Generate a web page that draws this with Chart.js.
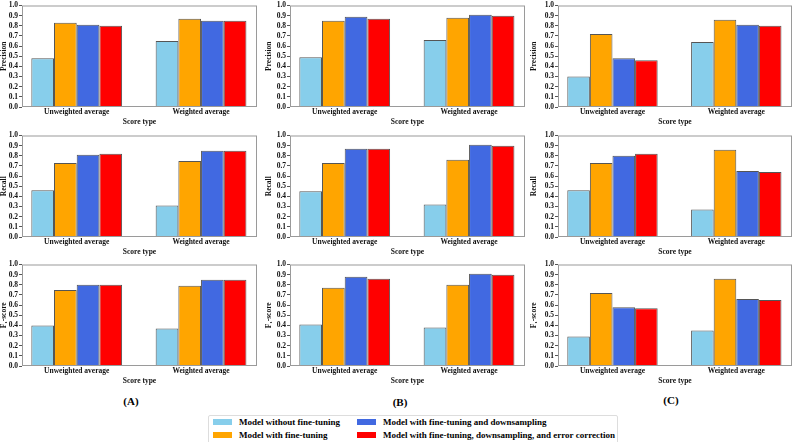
<!DOCTYPE html>
<html>
<head>
<meta charset="utf-8">
<script src="https://cdn.jsdelivr.net/npm/chart.js@4"></script>
<style>
  body { margin: 0; background: #fff; font-family: "Liberation Serif", serif; }
  #wrap { position: relative; width: 794px; height: 442px; overflow: hidden; }
  canvas { position: absolute; }
  .tag { position: absolute; font-weight: bold; font-size: 11px; transform: translate(-50%, -50%); }
  #legend { position: absolute; left: 208px; top: 415px; width: 408px; height: 30px; border: 1px solid #ddd; border-radius: 2px; }
  .sw { position: absolute; width: 19px; height: 6px; }
  .lt { position: absolute; font-weight: bold; font-size: 9px; white-space: nowrap; transform: translateY(-50%); }
</style>
</head>
<body>
<div id="wrap"></div>
<script>
// data
var categories = ['Unweighted average', 'Weighted average'];
var seriesNames = ['Model without fine-tuning', 'Model with fine-tuning', 'Model with fine-tuning and downsampling', 'Model with fine-tuning, downsampling, and error correction'];
var colors = ['#87CEEB', '#FFA500', '#4169E1', '#FF0000'];
var metricNames = ['Precision', 'Recall', 'F\u2081-score'];
var panelTags = ['(A)', '(B)', '(C)'];
var yTicks = [0, 0.1, 0.2, 0.3, 0.4, 0.5, 0.6, 0.7, 0.8, 0.9, 1.0];

// each row = one series: [unweighted, weighted]
var precisionA = [[0.48, 0.65], [0.83, 0.87], [0.81, 0.85], [0.80, 0.85]];
var recallA    = [[0.46, 0.31], [0.73, 0.75], [0.81, 0.85], [0.82, 0.85]];
var f1A        = [[0.40, 0.37], [0.75, 0.79], [0.80, 0.85], [0.80, 0.85]];
var precisionB = [[0.49, 0.66], [0.85, 0.88], [0.89, 0.91], [0.87, 0.90]];
var recallB    = [[0.45, 0.32], [0.73, 0.76], [0.87, 0.91], [0.87, 0.90]];
var f1B        = [[0.41, 0.38], [0.77, 0.80], [0.88, 0.91], [0.86, 0.90]];
var precisionC = [[0.30, 0.64], [0.72, 0.86], [0.48, 0.81], [0.46, 0.80]];
var recallC    = [[0.46, 0.27], [0.73, 0.86], [0.80, 0.65], [0.82, 0.64]];
var f1C        = [[0.29, 0.35], [0.72, 0.86], [0.58, 0.66], [0.57, 0.65]];

var grid = [
  [precisionA, precisionB, precisionC],
  [recallA, recallB, recallC],
  [f1A, f1B, f1C]
];

// layout
var cols = [
  { left: 0, width: 262, yw: 22, padR: 5 },
  { left: 265, width: 265, yw: 25, padR: 5 },
  { left: 530, width: 264, yw: 28, padR: 2 }
];
var rowTops = [0, 130, 259];
var rowH = 131;
var font = { family: '"Liberation Serif", serif', weight: 'bold', size: 7.5 };

var frame = {
  id: 'frame',
  afterDatasetsDraw: function(c) {
    var a = c.chartArea, g = c.ctx;
    g.save();
    g.strokeStyle = '#9a9a9a';
    g.lineWidth = 1;
    g.strokeRect(a.left + 0.5, a.top + 0.5, a.right - a.left - 1, a.bottom - a.top - 1);
    g.restore();
  }
};

var wrap = document.getElementById('wrap');

for (var r = 0; r < 3; r++) {
  for (var c = 0; c < 3; c++) {
    var col = cols[c];
    var cv = document.createElement('canvas');
    cv.width = col.width;
    cv.height = rowH;
    cv.style.left = col.left + 'px';
    cv.style.top = rowTops[r] + 'px';
    wrap.appendChild(cv);

    var vals = grid[r][c];
    var datasets = vals.map(function(s, i) {
      return {
        label: seriesNames[i],
        data: s.map(function(v, k) { return { x: k, y: v }; }),
        backgroundColor: colors[i],
        borderColor: '#555',
        borderWidth: 1,
        categoryPercentage: 0.73,
        barPercentage: 1
      };
    });

    (function(col) {
      new Chart(cv, {
        type: 'bar',
        data: { datasets: datasets },
        options: {
          responsive: false,
          animation: false,
          layout: { padding: { top: 4, right: col.padR, left: 0, bottom: 4 } },
          plugins: { legend: { display: false }, tooltip: { enabled: false } },
          scales: {
            x: {
              type: 'linear',
              min: -0.44,
              max: 1.45,
              offset: false,
              bounds: 'data',
              grid: { display: false, drawTicks: false },
              border: { display: false },
              afterBuildTicks: function(s) { s.ticks = categories.map(function(n, k) { return { value: k }; }); },
              afterFit: function(s) { s.height = 20; },
              ticks: {
                maxRotation: 0,
                autoSkip: false,
                padding: 1,
                color: '#111',
                font: font,
                callback: function(v) { return categories[v]; }
              },
              title: { display: true, text: 'Score type', color: '#111', font: font, padding: { top: 1, bottom: 0 } }
            },
            y: {
              min: 0,
              max: 1,
              afterBuildTicks: function(s) { s.ticks = yTicks.map(function(v) { return { value: v }; }); },
              afterFit: function(s) { s.width = col.yw; },
              grid: { drawOnChartArea: false, tickLength: 3, color: '#555' },
              border: { display: false },
              ticks: {
                autoSkip: false,
                padding: 1,
                color: '#111',
                font: font,
                callback: function(v) { return v.toFixed(1); }
              },
              title: { display: true, text: metricNames[r], color: '#111', font: font, padding: 0 }
            }
          }
        },
        plugins: [frame]
      });
    })(col);
  }
}

// panel tags
var tagPos = [[131, 401], [400, 402], [671, 400]];
panelTags.forEach(function(t, i) {
  var d = document.createElement('div');
  d.className = 'tag';
  d.textContent = t;
  d.style.left = tagPos[i][0] + 'px';
  d.style.top = tagPos[i][1] + 'px';
  wrap.appendChild(d);
});

// legend
var lg = document.createElement('div');
lg.id = 'legend';
wrap.appendChild(lg);
var itemPos = [[4, 6], [4, 19], [148, 6], [148, 19]];
seriesNames.forEach(function(n, i) {
  var sw = document.createElement('div');
  sw.className = 'sw';
  sw.style.background = colors[i];
  sw.style.left = itemPos[i][0] + 'px';
  sw.style.top = (itemPos[i][1] - 3) + 'px';
  lg.appendChild(sw);
  var t = document.createElement('div');
  t.className = 'lt';
  t.textContent = n;
  t.style.left = (itemPos[i][0] + 26) + 'px';
  t.style.top = itemPos[i][1] + 'px';
  lg.appendChild(t);
});
</script>
</body>
</html>
